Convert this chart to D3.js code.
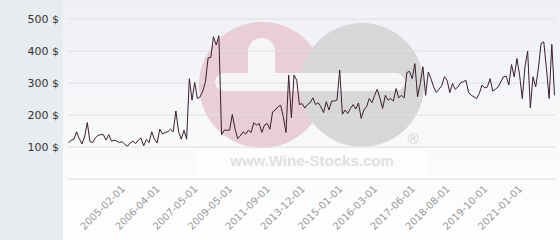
<!DOCTYPE html>
<html>
<head>
<meta charset="utf-8">
<script src="https://cdn.jsdelivr.net/npm/d3@7"></script>
<style>
    body { margin: 0; background: #ffffff; }
    svg { display: block; font-family: "DejaVu Sans", sans-serif; }
</style>
</head>
<body>
<div id="chart"></div>
<script>
// price per bottle, one value per quote
const prices = [
    111, 120, 122, 146, 125, 108, 130, 175, 115, 112,
    127, 135, 137, 137, 120, 137, 117, 120, 117, 112,
    115, 106, 101, 111, 117, 109, 120, 127, 102, 122,
    112, 146, 123, 111, 154, 139, 144, 146, 154, 146,
    211, 146, 123, 151, 123, 312, 245, 300, 250, 255,
    273, 302, 377, 378, 443, 417, 446, 137, 151, 151,
    151, 200, 156, 125, 133, 146, 139, 151, 144, 174,
    167, 172, 144, 167, 172, 154, 208, 214, 224, 229,
    193, 144, 323, 190, 323, 307, 231, 234, 220, 231,
    237, 252, 231, 237, 224, 206, 240, 214, 242, 242,
    245, 339, 201, 214, 203, 219, 231, 217, 236, 188,
    214, 224, 250, 237, 260, 279, 250, 219, 260, 245,
    250, 242, 281, 252, 260, 252, 331, 335, 312, 359,
    255, 297, 349, 260, 333, 312, 286, 269, 279, 290,
    318, 307, 268, 297, 279, 286, 299, 302, 307, 269,
    260, 255, 250, 266, 292, 283, 286, 312, 273, 279,
    286, 302, 318, 320, 292, 356, 318, 375, 323, 250,
    349, 398, 221, 318, 286, 344, 422, 427, 344, 250,
    419, 260
];

// which quote carries a date label, and that label
const labelIndex = [20, 33, 47, 60, 74, 87, 101, 114, 128, 141, 155, 168];
const labelDates = ["2005-02-01", "2006-04-01", "2007-05-01", "2009-05-01", "2011-09-01", "2013-12-01",
    "2015-01-01", "2016-03-01", "2017-06-01", "2018-08-01", "2019-10-01", "2021-01-01"];

const gridValues = [0, 100, 200, 300, 400, 500];
const priceTicks = [100, 200, 300, 400, 500];

const width = 560;
const height = 240;
const plotLeft = 68;
const plotRight = 555;

const svg = d3.select("#chart").append("svg")
    .attr("width", width)
    .attr("height", height);

// backgrounds
const grad = svg.append("defs").append("linearGradient")
    .attr("id", "bg")
    .attr("x1", 0).attr("y1", 0).attr("x2", 0).attr("y2", 1);
grad.append("stop").attr("offset", "0%").attr("stop-color", "#eef0f4");
grad.append("stop").attr("offset", "100%").attr("stop-color", "#ffffff");

svg.append("rect")
    .attr("x", 63).attr("y", 0)
    .attr("width", width - 63).attr("height", height)
    .attr("fill", "url(#bg)");
svg.append("rect")
    .attr("x", 0).attr("y", 0)
    .attr("width", 63).attr("height", height)
    .attr("fill", "#e8ecef");

const xScale = d3.scaleLinear()
    .domain([0, prices.length - 1])
    .range([plotLeft + 0.5, plotRight - 0.5]);

const yScale = d3.scaleLinear()
    .domain([0, 500])
    .range([178.5, 18.5]);

// watermark
const mark = svg.append("g");
mark.append("circle")
    .attr("cx", 262).attr("cy", 85).attr("r", 63)
    .attr("fill", "#e9ced5");
mark.append("circle")
    .attr("cx", 362).attr("cy", 85).attr("r", 62)
    .attr("fill", "#d7d7d9");
mark.append("rect")
    .attr("x", 215).attr("y", 73)
    .attr("width", 190).attr("height", 18)
    .attr("rx", 9)
    .attr("fill", "#f6f6f8");
mark.append("rect")
    .attr("x", 248).attr("y", 38)
    .attr("width", 27).attr("height", 53)
    .attr("rx", 13.5)
    .attr("fill", "#f6f6f8");
mark.append("rect")
    .attr("x", 197).attr("y", 149)
    .attr("width", 230).attr("height", 26)
    .attr("fill", "#ffffff")
    .attr("opacity", 0.6);
mark.append("text")
    .attr("x", 312).attr("y", 166)
    .attr("text-anchor", "middle")
    .attr("font-family", "Liberation Sans, Arial, sans-serif")
    .attr("font-weight", "bold")
    .attr("font-size", 15)
    .attr("fill", "#e0e0e0")
    .text("www.Wine-Stocks.com");
mark.append("text")
    .attr("x", 413).attr("y", 144)
    .attr("text-anchor", "middle")
    .attr("font-family", "Liberation Sans, Arial, sans-serif")
    .attr("font-size", 15)
    .attr("fill", "#d0d0d0")
    .text("®");

// grid lines
const grid = svg.append("g")
    .attr("transform", `translate(${plotLeft}, 0)`)
    .call(d3.axisLeft(yScale).tickValues(gridValues).tickSize(-(plotRight - plotLeft)).tickFormat(""));
grid.select(".domain").remove();
grid.selectAll("line").attr("stroke", "#e0e0e2");

// y labels
const yAxis = svg.append("g")
    .attr("transform", "translate(59, 0)")
    .call(d3.axisLeft(yScale).tickValues(priceTicks).tickSize(0).tickPadding(0)
        .tickFormat(function (d) { return d + " $"; }));
yAxis.select(".domain").remove();
yAxis.selectAll("text")
    .attr("font-family", "DejaVu Sans, sans-serif")
    .attr("font-size", 11)
    .attr("fill", "#333333");

// x labels
const xAxis = svg.append("g")
    .attr("transform", "translate(0, 178.5)")
    .call(d3.axisBottom(xScale).tickValues(labelIndex).tickSize(0)
        .tickFormat(function (d, i) { return labelDates[i]; }));
xAxis.select(".domain").remove();
xAxis.selectAll("text")
    .attr("x", 0).attr("y", 0).attr("dy", 0)
    .attr("transform", "translate(3, 11) rotate(-45)")
    .attr("text-anchor", "end")
    .attr("font-family", "DejaVu Sans, sans-serif")
    .attr("font-size", 10)
    .attr("fill", "#9a9a9a");

// price line
svg.append("path")
    .datum(prices)
    .attr("fill", "none")
    .attr("stroke", "#3a1e2c")
    .attr("stroke-width", 1)
    .attr("stroke-linejoin", "round")
    .attr("d", d3.line()
        .x(function (d, i) { return xScale(i); })
        .y(function (d) { return yScale(d); }));
</script>
</body>
</html>
